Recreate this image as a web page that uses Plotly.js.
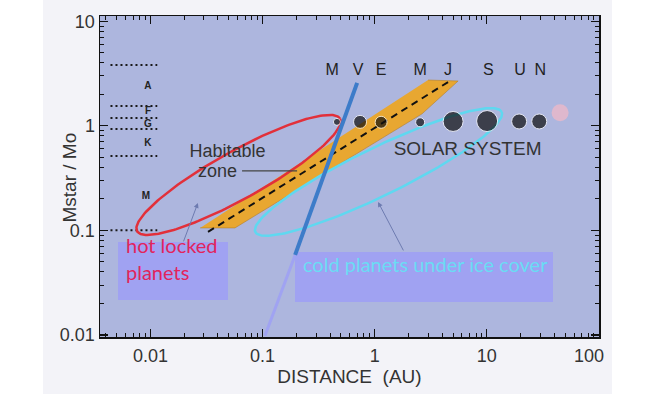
<!DOCTYPE html>
<html><head><meta charset="utf-8">
<script src="https://cdn.plot.ly/plotly-3.0.1.min.js"></script>
<style>html,body{margin:0;padding:0;background:#fff;}#chart{width:650px;height:394px;}</style>
</head><body><div id="chart"></div>
<script>
// ---------- data ----------
const planetLetters = ['M','V','E','M','J','S','U','N'];
const labelDist = [0.417,0.71,1.14,2.54,4.51,10.3,19.8,29.9];
const labelMass = [3.34,3.34,3.34,3.34,3.34,3.34,3.34,3.34];
const planetDist = [0.46,0.74,1.14,2.54,5.0,10.05,19.4,29.3];
const planetMass = [1.09,1.09,1.08,1.08,1.1,1.11,1.1,1.1];
const plutoDist = [45];
const plutoMass = [1.33];

const classLetters = ['A','F','G','K','M'];
const classDist = [0.0095,0.0095,0.0095,0.0095,0.0091];
const classMass = [2.35,1.36,1.04,0.67,0.209];
const classBounds = [3.82,1.55,1.19,0.93,0.515,0.1];
const boundDist = [0.0044,0.0115];

const hzBandDist = [0.0277,0.0567,2.64,5.54,2.99];
const hzBandMass = [0.1055,0.1055,1.30,2.68,2.74];
const hzLineDist = [0.0326,4.51];
const hzLineMass = [0.0966,2.62];

const iceLineDist = [0.697,0.195];
const iceLineMass = [2.57,0.0582];
const iceLineLowDist = [0.195,0.105];
const iceLineLowMass = [0.0582,0.0098];

const zonePointerDist = [0.0656,0.203];
const zonePointerMass = [0.37,0.37];

const xTickVals = [0.01,0.1,1,10,100];
const xTickText = ['0.01','0.1','1','10','100\u00a0\u00a0\u00a0\u00a0'];
const yTickVals = [0.01,0.1,1,10];
const yTickText = ['0.01','0.1','1','10'];

// ellipse outlines: centre (AU, Msun)
const hotCentre = [0.061,0.339];
const coldCentre = [1.08,0.362];

// ---------- styles / layout ----------
const W=650,H=394, M={l:100,r:51,t:16,b:57};
const xRange=[-2.45,2.0], yRange=[-2.02,1.05];
const kx=(W-M.l-M.r)/(xRange[1]-xRange[0]);
const ky=(H-M.t-M.b)/(yRange[1]-yRange[0]);
const planetDiam=[7,13,12,9,20,21,15,15];

function ellipse(c,a,b,deg){
  const th=deg*Math.PI/180, xs=[], ys=[];
  const lx=Math.log10(c[0]), ly=Math.log10(c[1]);
  for(let i=0;i<=180;i++){
    const t=i/180*2*Math.PI;
    const dx=a*Math.cos(t)*Math.cos(th)-b*Math.sin(t)*Math.sin(th);
    const dy=a*Math.cos(t)*Math.sin(th)+b*Math.sin(t)*Math.cos(th);
    xs.push(Math.pow(10,lx+dx/kx)); ys.push(Math.pow(10,ly+dy/ky));
  }
  return {xs,ys};
}
const hotE=ellipse(hotCentre,116,24,29);
const coldE=ellipse(coldCentre,137,24,26);

const bx=[],by=[];
classBounds.forEach(v=>{bx.push(boundDist[0],boundDist[1],null);by.push(v,v,null);});

const FONT='"Liberation Sans", Arial, Helvetica, sans-serif';
const BOXFONT='Lato, "Open Sans", sans-serif';
const L10=Math.log10;

const traces=[
  {x:bx,y:by,mode:'lines',line:{color:'#1a1a1a',width:2,dash:'2px,3px'},hoverinfo:'skip'},
  {x:classDist,y:classMass,mode:'text',text:classLetters,textfont:{family:FONT,size:10,color:'#222',weight:'bold'},hoverinfo:'skip'},
  {x:hzBandDist,y:hzBandMass,mode:'lines',fill:'toself',fillcolor:'#e8a731',line:{color:'#b3802a',width:0.6},hoverinfo:'skip'},
  {x:hzLineDist,y:hzLineMass,mode:'lines',line:{color:'#111',width:2,dash:'7px,5px'},hoverinfo:'skip'},
  {x:hotE.xs,y:hotE.ys,mode:'lines',line:{color:'#e2303a',width:2.5},hoverinfo:'skip'},
  {x:coldE.xs,y:coldE.ys,mode:'lines',line:{color:'#5fd8f0',width:2.5},hoverinfo:'skip'},
  {x:zonePointerDist,y:zonePointerMass,mode:'lines',line:{color:'#444',width:1.2},hoverinfo:'skip'},
  {x:plutoDist,y:plutoMass,mode:'markers',marker:{size:17,color:'#f3b9c6',opacity:0.7},hoverinfo:'skip'},
  {x:planetDist,y:planetMass,mode:'markers',marker:{size:planetDiam,color:'#0d0d0d'},hoverinfo:'skip'},
  {x:labelDist,y:labelMass,mode:'text',text:planetLetters,textfont:{family:FONT,size:16,color:'#222'},hoverinfo:'skip'},
  {x:iceLineLowDist,y:iceLineLowMass,mode:'lines',line:{color:'#a0a3f2',width:3},hoverinfo:'skip'},
  {x:iceLineDist,y:iceLineMass,mode:'lines',line:{color:'#3d7cc9',width:4},hoverinfo:'skip'},
  {x:[0.0487],y:[0.56],mode:'text',text:['Habitable'],textfont:{family:FONT,size:18,color:'#333'},hoverinfo:'skip'},
  {x:[0.0396],y:[0.36],mode:'text',text:['zone'],textfont:{family:FONT,size:18,color:'#333'},hoverinfo:'skip'},
  {x:[6.73],y:[0.587],mode:'text',text:['SOLAR SYSTEM'],textfont:{family:FONT,size:19,color:'#333'},hoverinfo:'skip'}
];

const px=v=>(v-M.l)/(W-M.l-M.r), py=v=>(H-M.b-v)/(H-M.t-M.b);
const axisCommon={type:'log',tickmode:'array',ticks:'inside',ticklen:8,tickwidth:1.2,tickcolor:'#111',
  showline:true,linecolor:'#111',linewidth:1.5,mirror:'ticks',showgrid:false,zeroline:false,
  tickfont:{family:FONT,size:18,color:'#333'},
  minor:{ticks:'inside',ticklen:4,tickwidth:1,tickcolor:'#111',dtick:'D1',showgrid:false}};

const layout={
  width:W,height:H,margin:{l:M.l,r:M.r,t:M.t,b:M.b,pad:0},showlegend:false,
  paper_bgcolor:'#f3f3f8',plot_bgcolor:'#adb6de',
  xaxis:Object.assign({},axisCommon,{range:xRange,tickvals:xTickVals,ticktext:xTickText,ticklabelstandoff:2,
    title:{text:'DISTANCE\u00a0 (AU)',font:{family:FONT,size:19,color:'#333'},standoff:0}}),
  yaxis:Object.assign({},axisCommon,{range:yRange,tickvals:yTickVals,ticktext:yTickText}),
  shapes:[
    {type:'rect',xref:'paper',yref:'paper',x0:-0.3,x1:px(43),y0:-0.3,y1:1.3,fillcolor:'#ffffff',line:{width:0},layer:'below'},
    {type:'rect',xref:'paper',yref:'paper',x0:px(612),x1:1.3,y0:-0.3,y1:1.3,fillcolor:'#ffffff',line:{width:0},layer:'below'},
    {type:'rect',xref:'paper',yref:'paper',x0:px(118),x1:px(228),y0:py(300),y1:py(242),fillcolor:'#a0a2f2',line:{width:0},layer:'below'},
    {type:'rect',xref:'paper',yref:'paper',x0:px(295),x1:px(553),y0:py(302),y1:py(252),fillcolor:'#a0a2f2',line:{width:0},layer:'below'}
  ],
  annotations:[
    {xref:'paper',yref:'paper',x:px(56),y:py(178),text:'Mstar / Mo',textangle:-90,showarrow:false,font:{family:FONT,size:19,color:'#333'}},
    {xref:'paper',yref:'paper',x:px(124),y:py(259),xanchor:'left',text:'hot locked',showarrow:false,font:{family:BOXFONT,size:20,color:'#e2245c'}},
    {xref:'paper',yref:'paper',x:px(124),y:py(286),xanchor:'left',text:'planets',showarrow:false,font:{family:BOXFONT,size:20,color:'#e2245c'}},
    {xref:'paper',yref:'paper',x:px(301),y:py(278),xanchor:'left',text:'cold planets under ice cover',showarrow:false,font:{family:BOXFONT,size:20,color:'#6adcf4'}},
    {xref:'x',yref:'y',axref:'x',ayref:'y',x:L10(0.0265),y:L10(0.183),ax:L10(0.0195),ay:L10(0.0759),text:'',showarrow:true,arrowhead:2,arrowsize:1,arrowwidth:1,arrowcolor:'#6d7bb0'},
    {xref:'x',yref:'y',axref:'x',ayref:'y',x:L10(1.07),y:L10(0.187),ax:L10(1.83),ay:L10(0.0622),text:'',showarrow:true,arrowhead:2,arrowsize:1,arrowwidth:1,arrowcolor:'#6d7bb0'}
  ]
};
Plotly.newPlot('chart',traces,layout,{staticPlot:true,displayModeBar:false});
</script></body></html>
